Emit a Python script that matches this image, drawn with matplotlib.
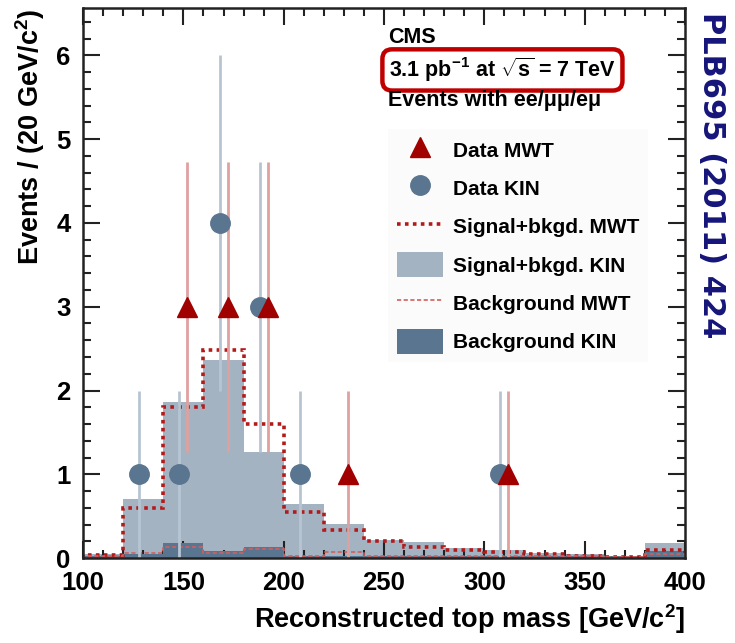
import numpy as np
import matplotlib
matplotlib.use("Agg")
import matplotlib.pyplot as plt
from matplotlib.lines import Line2D
from matplotlib.patches import Patch
from matplotlib.ticker import MultipleLocator

plt.rcParams['font.family'] = ['Liberation Sans', 'DejaVu Sans']
plt.rcParams['mathtext.fontset'] = 'custom'
plt.rcParams['mathtext.rm'] = 'Liberation Sans:bold'
plt.rcParams['mathtext.bf'] = 'Liberation Sans:bold'
plt.rcParams['mathtext.it'] = 'Liberation Sans:bold'

################## data
edges = np.arange(100, 420, 20)
sig_kin = [0.05, 0.70, 1.86, 2.36, 1.27, 0.64, 0.41, 0.22, 0.19, 0.12, 0.10, 0.06, 0.05, 0.03, 0.18]
sig_mwt = [0.04, 0.60, 1.80, 2.48, 1.60, 0.55, 0.34, 0.20, 0.13, 0.10, 0.07, 0.05, 0.03, 0.01, 0.10]
bkg_kin = [0.03, 0.05, 0.18, 0.08, 0.13, 0.03, 0.03, 0.02, 0.02, 0.02, 0.02, 0.02, 0.02, 0.02, 0.08]
bkg_mwt = [0.02, 0.06, 0.13, 0.06, 0.11, 0.03, 0.07, 0.03, 0.03, 0.03, 0.02, 0.02, 0.02, 0.01, 0.05]

kin_x = [128, 148, 168, 188, 208, 308]
kin_n = [1, 1, 4, 3, 1, 1]
mwt_x = [152, 172, 192, 232, 312]
mwt_n = [3, 3, 3, 1, 1]

c_light = '#a3b3c2'
c_dark = '#5a7590'
c_red = '#a00000'

################## figure
fig = plt.figure(figsize=(7.35, 6.43), dpi=100)
ax = fig.add_axes([0.113, 0.132, 0.819, 0.855])

ax.stairs(sig_kin, edges, fill=True, color=c_light, zorder=1)
ax.stairs(bkg_kin, edges, fill=True, color=c_dark, zorder=2)
ax.stairs(sig_mwt, edges, color='#b41a1a', lw=2.6, ls=(0, (1, 1.2)), zorder=3)
ax.stairs(bkg_mwt, edges, color='#d26060', lw=1.2, ls=(0, (2.5, 1.5)), zorder=3)

kin_err = np.sqrt(kin_n)
mwt_err = np.sqrt(mwt_n)
ax.errorbar(kin_x, kin_n, yerr=kin_err, fmt='none', ecolor='#b7c5d3', elinewidth=2, zorder=4)
ax.errorbar(mwt_x, mwt_n, yerr=mwt_err, fmt='none', ecolor='#dfa0a0', elinewidth=2, zorder=4)
ax.plot(kin_x, kin_n, 'o', color=c_dark, ms=14, zorder=5)
ax.plot(mwt_x, mwt_n, '^', color=c_red, ms=15, zorder=6)

################## axes
ax.set_xlim(100, 400)
ax.set_ylim(0, 6.56)
ax.xaxis.set_major_locator(MultipleLocator(50))
ax.xaxis.set_minor_locator(MultipleLocator(10))
ax.yaxis.set_major_locator(MultipleLocator(1))
ax.yaxis.set_minor_locator(MultipleLocator(0.2))
ax.tick_params(which='both', direction='in', top=True, right=True, width=1.5, color='#222222')
ax.tick_params(which='major', length=12, labelsize=18.5)
ax.tick_params(which='minor', length=6)
ax.tick_params(axis='x', pad=9)
ax.tick_params(axis='y', pad=9)
for lab in ax.get_xticklabels() + ax.get_yticklabels():
    lab.set_fontweight('bold')
for sp in ax.spines.values():
    sp.set_linewidth(1.8)
    sp.set_color('#222222')
    sp.set_zorder(10)

ax.set_xlabel('Reconstructed top mass [GeV/c$^2$]', fontsize=19.5, fontweight='bold', loc='right')
ax.xaxis.set_label_coords(1.0, -0.08)
ax.set_ylabel('Events / (20 GeV/c$^2$)', fontsize=19.5, fontweight='bold', loc='top')
ax.yaxis.set_label_coords(-0.06, 1.0)

################## texts
ax.text(0.507, 0.947, 'CMS', transform=ax.transAxes, fontsize=15.5, fontweight='bold', va='center')
ax.text(0.508, 0.888, r'3.1 pb$^{-1}$ at $\sqrt{s}$ = 7 TeV', transform=ax.transAxes,
        fontsize=15.5, fontweight='bold', va='center',
        bbox=dict(boxstyle='round,pad=0.3,rounding_size=0.45', fc='white', ec='#c00000', lw=3.2))
ax.text(0.507, 0.833, 'Events with ee/\u03bc\u03bc/e\u03bc', transform=ax.transAxes,
        fontsize=15.5, fontweight='bold', va='center')

handles = [
    Line2D([], [], ls='none', marker='^', color=c_red, ms=15),
    Line2D([], [], ls='none', marker='o', color=c_dark, ms=14),
    Line2D([], [], color='#b41a1a', lw=2.6, ls=(0, (1, 1.2))),
    Patch(facecolor=c_light, edgecolor='none'),
    Line2D([], [], color='#d26060', lw=1.2, ls=(0, (2.5, 1.5))),
    Patch(facecolor=c_dark, edgecolor='none'),
]
labels = ['Data MWT', 'Data KIN', 'Signal+bkgd. MWT', 'Signal+bkgd. KIN',
          'Background MWT', 'Background KIN']
leg = ax.legend(handles, labels, loc='upper left', bbox_to_anchor=(0.49, 0.8),
                frameon=True, fancybox=False, facecolor='#fbfbfb', edgecolor='none',
                framealpha=1, handlelength=2.2, handleheight=1.5, handletextpad=0.5,
                labelspacing=0.62, borderpad=0.4, prop={'size': 15, 'weight': 'bold'})
leg.set_zorder(7)

fig.text(0.968, 0.982, 'PLB695 (2011) 424', rotation=-90, ha='center', va='top',
         fontsize=22, fontweight='bold', color='#15157a', family='DejaVu Sans')

fig.savefig('out.png', dpi=100)
